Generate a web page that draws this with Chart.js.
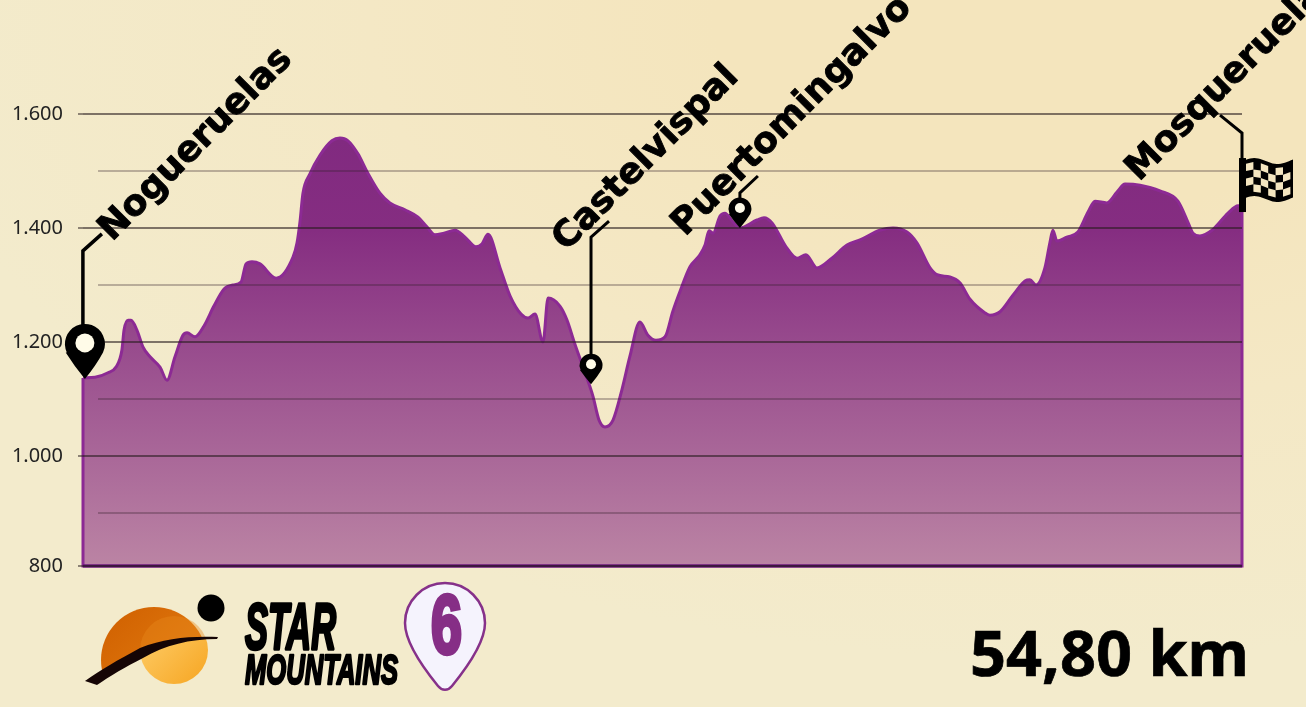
<!DOCTYPE html>
<html lang="es">
<head>
<meta charset="utf-8">
<title>Star Mountains 6</title>
<script src="https://cdn.jsdelivr.net/npm/chart.js@4"></script>
<style>
html,body{margin:0;padding:0;width:1306px;height:707px;overflow:hidden}
body{position:relative;background:radial-gradient(ellipse 1150px 640px at 1060px 20px,#f4e5bd 0%,#f4e5bd 30%,#f4e8c5 60%,#f3ebcc 100%),#f3ebcc}
canvas{position:absolute;left:0;top:0}
#logo{position:absolute;left:0;top:0}
#dist{position:absolute;left:970px;top:608px;font:700 63px "Noto Sans",sans-serif;color:#000;line-height:88px;white-space:nowrap;-webkit-text-stroke:0.7px #000}
</style>
</head>
<body>
<canvas id="c" width="1306" height="707"></canvas>
<svg id="logo" width="1306" height="707" xmlns="http://www.w3.org/2000/svg">
<defs>
<linearGradient id="o1" x1="0" y1="0" x2="1" y2="1"><stop offset="0" stop-color="#cf5f00"/><stop offset="1" stop-color="#e88414"/></linearGradient>
<linearGradient id="o2" x1="0" y1="0" x2="1" y2="1"><stop offset="0" stop-color="#ffd272"/><stop offset="1" stop-color="#f6a521"/></linearGradient>
<clipPath id="above"><path d="M80 590H225V637C190 637 160 644 140 652C118 661 100 672 88 684H80Z"/></clipPath>
<clipPath id="below"><path d="M88 684C100 672 118 661 140 652C160 644 190 637 225 637V700H88Z"/></clipPath>
</defs>
<g clip-path="url(#above)"><circle cx="154" cy="660" r="53" fill="url(#o1)"/><circle cx="174" cy="650" r="34" fill="#e8891c" opacity=".4"/></g>
<g clip-path="url(#below)"><circle cx="174" cy="650" r="34" fill="url(#o2)"/></g>
<path d="M85 681C100 670 118 660 140 648C165 638 190 636 218 637L217 639C190 639 165 645 143 658C125 667 110 676 97 685Z" fill="#150505"/>
<circle cx="211" cy="608" r="13.5" fill="#000"/>
<g font-family="Liberation Sans" font-weight="700" font-style="italic" fill="#000" stroke="#000" stroke-linejoin="round">
<text x="245" y="649" font-size="64" stroke-width="3.4" textLength="91" lengthAdjust="spacingAndGlyphs">STAR</text>
<text x="245" y="684" font-size="43" stroke-width="2.6" textLength="153" lengthAdjust="spacingAndGlyphs">MOUNTAINS</text>
</g>
<path d="M445 583C423 583 405 601 405 623C405 643 425 670 438 686C442 691 448 691 452 686C465 670 485 643 485 623C485 601 467 583 445 583Z" fill="#f5f3fd" stroke="#86318a" stroke-width="2.5"/>
<text x="431" y="653" font-family="Liberation Sans" font-weight="700" font-size="84" fill="#862e86" stroke="#862e86" stroke-width="4.5" textLength="31" lengthAdjust="spacingAndGlyphs">6</text>
</svg>
<div id="dist">54,80 km</div>
<script>
const distanceKm = [0,0.57,1.18,1.56,1.84,1.94,2.13,2.27,2.55,2.84,3.17,3.64,3.97,4.35,4.73,4.92,5.30,5.72,6.19,6.67,7.09,7.47,7.71,7.99,8.37,9.13,9.93,10.12,10.26,10.40,10.73,11.21,11.77,12.15,12.53,13.00,13.47,14.04,14.51,15.22,15.84,16.26,16.64,17.07,17.59,18.06,18.58,18.86,19.15,19.72,20.19,20.71,21.04,21.37,21.75,21.99,22.55,22.88,23.26,23.73,24.11,24.40,24.68,25.06,25.48,25.86,26.33,26.71,27.09,27.52,27.89,28.23,28.70,29.17,29.41,29.60,29.79,30.12,30.35,30.73,31.06,31.87,32.20,32.58,33.24,33.76,34.18,34.70,35.41,36.12,36.74,37.68,38.30,38.96,39.43,40.05,40.38,40.99,41.46,41.94,42.65,42.88,43.36,43.97,44.54,44.77,45.06,45.48,45.72,45.86,46.05,46.52,47.04,47.52,47.85,48.41,48.89,49.27,49.98,50.92,51.77,52.20,52.48,52.81,53.38,54.14,54.61,54.80];
const elevation = [1137,1138,1146,1156,1186,1221,1238,1238,1221,1191,1174,1156,1133,1174,1212,1216,1209,1228,1263,1293,1300,1305,1337,1341,1337,1312,1349,1374,1411,1461,1495,1528,1553,1558,1553,1530,1496,1461,1444,1432,1419,1402,1388,1391,1396,1384,1367,1372,1389,1330,1281,1249,1242,1249,1200,1277,1263,1239,1196,1147,1105,1063,1051,1063,1116,1175,1235,1212,1203,1209,1254,1289,1332,1353,1370,1395,1391,1421,1426,1411,1400,1414,1418,1409,1367,1347,1353,1330,1347,1370,1379,1396,1400,1393,1374,1330,1318,1314,1304,1275,1251,1247,1253,1282,1307,1309,1300,1330,1375,1396,1377,1384,1393,1428,1447,1444,1463,1477,1475,1465,1447,1414,1391,1386,1396,1426,1439,1439];
const tickValues = [807,1000,1200,1400,1600];
const tickLabels = ['800','1.000','1.200','1.400','1.600'];
const minorGrid = [900,1100,1300,1500];
const stopNames = ['Nogueruelas','Castelvispal','Puertomingalvo','Mosqueruela'];
const stopKm = [0.09,24.02,31.06,54.80];
const stopElev = [1137,1126,1400,1428];
const axisMin = 807, axisMax = 1800, totalKm = 54.8, minorStartKm = 0.71;

const BEIGE = '#fffbe8';
function pin(ctx,x,tip,r,lift,dot){
  const cy = tip-lift;
  ctx.fillStyle='#000';
  ctx.beginPath();
  ctx.arc(x,cy,r,Math.PI*0.86,Math.PI*0.14);
  ctx.quadraticCurveTo(x+r*0.55,cy+lift*0.62,x,tip);
  ctx.quadraticCurveTo(x-r*0.55,cy+lift*0.62,x-r*0.96,cy+r*0.43);
  ctx.closePath();ctx.fill();
  ctx.fillStyle=BEIGE;
  ctx.beginPath();ctx.arc(x,cy-1,dot,0,Math.PI*2);ctx.fill();
}
function leader(ctx,pts,w){
  ctx.strokeStyle='#000';ctx.lineWidth=w;ctx.lineJoin='miter';ctx.lineCap='butt';
  ctx.beginPath();pts.forEach((p,i)=>i?ctx.lineTo(p[0],p[1]):ctx.moveTo(p[0],p[1]));ctx.stroke();
}
function label(ctx,t,x,y){
  ctx.save();ctx.translate(x,y);ctx.rotate(-Math.PI/4);
  ctx.font='700 36px "DejaVu Sans"';ctx.fillStyle='#000';ctx.strokeStyle='#000';ctx.lineWidth=0.9;ctx.lineJoin='round';ctx.textAlign='left';ctx.textBaseline='alphabetic';
  ctx.fillText(t,0,0);ctx.strokeText(t,0,0);ctx.restore();
}
function flag(ctx,x,tip){
  const wave=(u)=>Math.sin(u*Math.PI*2.1+0.2)*-3;
  const L=x+2,W=49,T=tip-51,H=38;
  ctx.fillStyle='#000';
  ctx.fillRect(x-3,tip-54,7,54);
  ctx.beginPath();
  for(let i=0;i<=24;i++){const u=i/24;ctx[i?'lineTo':'moveTo'](L+u*W,T+wave(u));}
  for(let i=24;i>=0;i--){const u=i/24;ctx.lineTo(L+u*W,T+H+wave(u));}
  ctx.closePath();ctx.fill();
  ctx.fillStyle='#f4e6c0';
  const cols=6,rows=4,cw=7.4,ch=7.4;
  for(let c=0;c<cols;c++)for(let r=0;r<rows;r++){
    if((c+r)%2)continue;
    const x0=L+2+c*cw;
    const y0=T+4+r*ch;
    const a=wave((x0-L)/W),b=wave((x0+cw-L)/W);
    ctx.beginPath();ctx.moveTo(x0,y0+a);ctx.lineTo(x0+cw,y0+b);ctx.lineTo(x0+cw,y0+ch+b);ctx.lineTo(x0,y0+ch+a);ctx.closePath();ctx.fill();
  }
}
const annotations = {
  id:'annotations',
  afterDraw(chart){
    const {ctx,scales:{x:xs,y:ys}}=chart;
    const px=stopKm.map(k=>xs.getPixelForValue(k)), py=stopElev.map(e=>ys.getPixelForValue(e));
    ctx.save();
    leader(ctx,[[px[0]-2,py[0]-40],[px[0]-2,py[0]-127],[px[0]+17,py[0]-144]],3.5);
    pin(ctx,px[0],py[0]+1,20,35,9.5);
    label(ctx,stopNames[0],112,242);
    leader(ctx,[[px[1],py[1]-20],[px[1],py[1]-147],[px[1]+18,py[1]-163]],3);
    pin(ctx,px[1],py[1],11.5,19,5);
    label(ctx,stopNames[1],566,252);
    leader(ctx,[[px[2],py[2]-28],[px[2],py[2]-35],[px[2]+18,py[2]-52]],3);
    pin(ctx,px[2],py[2],11.5,19,5);
    label(ctx,stopNames[2],685,237);
    leader(ctx,[[px[3],py[3]-50],[px[3],py[3]-79],[px[3]-22,py[3]-97]],3);
    flag(ctx,px[3],py[3]);
    label(ctx,stopNames[3],1139,182);
    ctx.restore();
  }
};
function areaFill(ctx){
  const g=ctx.chart.ctx.createLinearGradient(0,137,0,566);
  g.addColorStop(0,'#812a80');
  g.addColorStop(0.217,'#852d81');
  g.addColorStop(1,'#bb84a4');
  return g;
}
const minorSets = minorGrid.map(v=>({
  data:[{x:minorStartKm,y:v},{x:totalKm,y:v}],
  borderColor:'rgba(50,30,40,0.3)',borderWidth:2,pointRadius:0,fill:false,order:1
}));
new Chart(document.getElementById('c'),{
  type:'line',
  data:{datasets:[
    ...minorSets,
    {data:distanceKm.map((k,i)=>({x:k,y:elevation[i]})),
     borderColor:'#8c2a94',borderWidth:3,backgroundColor:areaFill,fill:'start',pointRadius:0,cubicInterpolationMode:'monotone',order:2},
    {data:[{x:0,y:elevation[0]},{x:0,y:axisMin},{x:totalKm,y:axisMin},{x:totalKm,y:elevation[elevation.length-1]}],
     borderColor:'#8c2a94',borderWidth:3,pointRadius:0,fill:false,clip:false,order:0},
    {data:[{x:0,y:axisMin},{x:totalKm,y:axisMin}],
     borderColor:'#5e1170',borderWidth:3,pointRadius:0,fill:false,clip:false,order:-1}
  ]},
  options:{
    responsive:false,animation:false,
    layout:{padding:{left:0,top:0,right:64,bottom:141}},
    plugins:{legend:{display:false},tooltip:{enabled:false}},
    scales:{
      x:{type:'linear',display:false,min:0,max:totalKm},
      y:{type:'linear',min:axisMin,max:axisMax,
        afterBuildTicks(s){s.ticks=tickValues.map(v=>({value:v}));},
        afterFit(s){s.width=83;s.paddingTop=0;s.paddingBottom=0;},
        border:{display:false},
        grid:{z:1,color:'rgba(40,28,30,0.58)',lineWidth:2,tickLength:5,tickColor:'rgba(40,28,30,0.5)'},
        ticks:{autoSkip:false,padding:15,color:'#222',font:{family:'"Noto Sans"',size:20},
          callback:(v)=>tickLabels[tickValues.indexOf(v)]}
      }
    }
  },
  plugins:[annotations]
});
</script>
</body>
</html>
